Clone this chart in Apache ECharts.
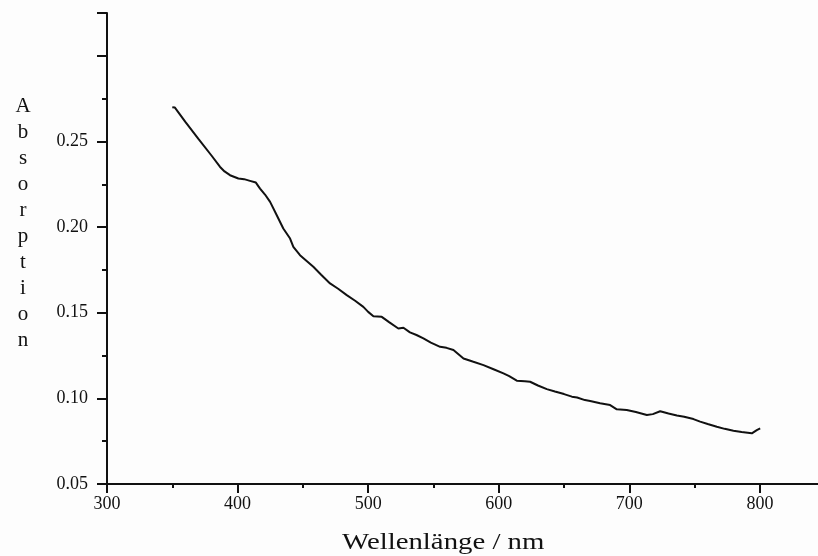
<!DOCTYPE html>
<html>
<head>
<meta charset="utf-8">
<script src="https://cdn.jsdelivr.net/npm/echarts@6/dist/echarts.min.js"></script>
<style>
html,body{margin:0;padding:0;background:#fdfdfd;}
#chart{width:818px;height:556px;}
</style>
</head>
<body>
<div id="chart"></div>
<script>
// Wavelength (nm) and absorption
const wavelength = [350, 352, 360, 370, 380, 386.6, 390, 394.2, 400.6, 405, 409.5, 411, 414, 417.2, 421, 424.9, 430, 435, 440.2, 442.7, 447.8, 452, 458, 464, 470.8, 477, 483.6, 490, 496.3, 500, 504, 510.4, 516, 523.1, 527, 532, 537, 542.3, 548, 555.1, 560, 565.3, 573, 580, 588.3, 596, 603.6, 608, 613.8, 620, 624, 630, 636.8, 643, 650, 656, 660, 666, 670, 677.6, 685.3, 690.4, 698, 705, 713.4, 718, 723.6, 730, 736.4, 742, 749.1, 754.2, 760, 767, 773, 779.7, 786, 793.8, 797.6, 800.2];
const absorption = [0.270, 0.2698, 0.2614, 0.2515, 0.2418, 0.2351, 0.2325, 0.2303, 0.2284, 0.2280, 0.2270, 0.2274, 0.2260, 0.2225, 0.2190, 0.2147, 0.2069, 0.1992, 0.1933, 0.1884, 0.1836, 0.1808, 0.1768, 0.1722, 0.1671, 0.1640, 0.1603, 0.1570, 0.1534, 0.1505, 0.1480, 0.1476, 0.1445, 0.1408, 0.1412, 0.1385, 0.1370, 0.1350, 0.1325, 0.1301, 0.1295, 0.1282, 0.1233, 0.1215, 0.1194, 0.1170, 0.1146, 0.1130, 0.1103, 0.1100, 0.1097, 0.1075, 0.1054, 0.1040, 0.1025, 0.1010, 0.1005, 0.0990, 0.0985, 0.0971, 0.0961, 0.0936, 0.0932, 0.0920, 0.0903, 0.0908, 0.0925, 0.0912, 0.0900, 0.0893, 0.0879, 0.0864, 0.0850, 0.0834, 0.0822, 0.0811, 0.0803, 0.0796, 0.0815, 0.0825];
const xTicks = [300, 400, 500, 600, 700, 800];
const yTicks = [0.05, 0.10, 0.15, 0.20, 0.25];
const xTitle = 'Wellenlänge / nm';
const yTitle = 'Absorption';

const serif = '"Liberation Serif", "DejaVu Serif", serif';
const ink = '#111';

const chart = echarts.init(document.getElementById('chart'), null, {renderer: 'canvas'});
chart.setOption({
  backgroundColor: '#fdfdfd',
  animation: false,
  grid: {left: 107, top: 13, right: -2, height: 471, containLabel: false, outerBoundsMode: 'none'},
  xAxis: {
    type: 'value', min: 300, max: 846, interval: 100,
    axisLine: {show: true, onZero: false, lineStyle: {color: ink, width: 2}},
    axisTick: {show: true, inside: false, length: 9, lineStyle: {color: ink, width: 2}},
    minorTick: {show: true, splitNumber: 2, length: 4, lineStyle: {color: ink, width: 2}},
    splitLine: {show: false},
    axisLabel: {
      color: ink, fontFamily: serif, fontSize: 18, margin: 11,
      formatter: v => xTicks.indexOf(Math.round(v)) >= 0 ? String(Math.round(v)) : ''
    }
  },
  yAxis: {
    type: 'value', min: 0.05, max: 0.325, interval: 0.05,
    axisLine: {show: true, onZero: false, lineStyle: {color: ink, width: 2}},
    axisTick: {show: true, inside: false, length: 10, lineStyle: {color: ink, width: 2}},
    minorTick: {show: true, splitNumber: 2, length: 5, lineStyle: {color: ink, width: 2}},
    splitLine: {show: false},
    axisLabel: {
      color: ink, fontFamily: serif, fontSize: 18, margin: 19,
      formatter: v => yTicks.some(t => Math.abs(t - v) < 1e-6) ? v.toFixed(2) : ''
    }
  },
  series: [{
    type: 'line',
    data: wavelength.map((w, i) => [w, absorption[i]]),
    showSymbol: false,
    smooth: false,
    lineStyle: {color: ink, width: 2}
  }],
  graphic: [
    {type: 'text', x: 342, y: 543, scaleX: 1.2,
     style: {text: xTitle, font: '24px ' + serif, fill: ink, verticalAlign: 'middle'}},
    {type: 'text', x: 23, y: 223,
     style: {text: yTitle.split('').join('\n'), font: '21px ' + serif, fill: ink,
             align: 'center', verticalAlign: 'middle', lineHeight: 26}}
  ]
});
</script>
</body>
</html>
